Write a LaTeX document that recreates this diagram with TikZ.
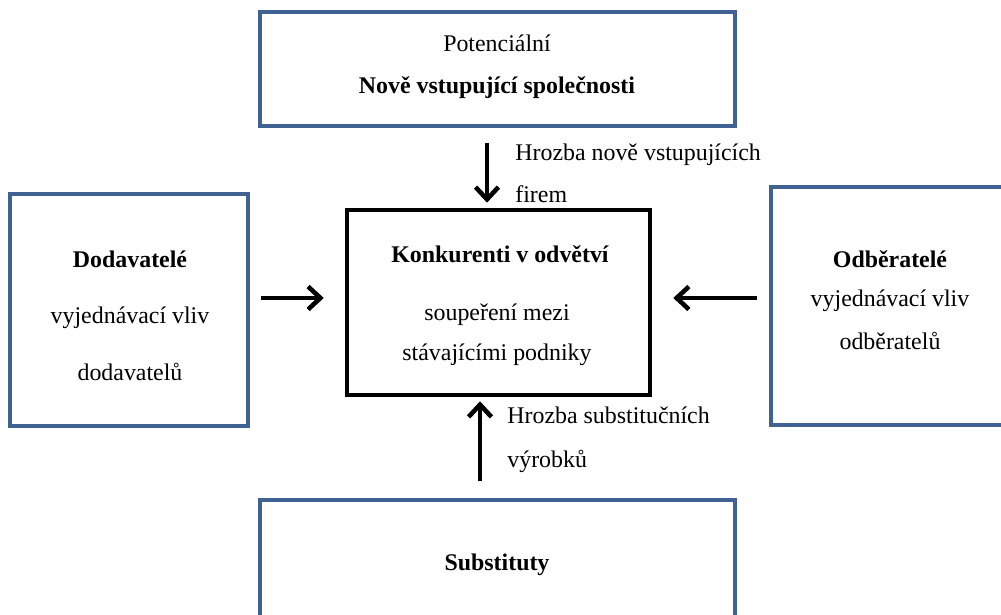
\documentclass[tikz,border=0pt]{standalone}
\usepackage{fontspec}
\setmainfont{Liberation Serif}
\usetikzlibrary{arrows.meta}
\definecolor{boxblue}{RGB}{64,98,146}
\tikzset{
  bluebox/.style={draw=boxblue, line width=2.3pt, inner sep=0pt},
  centerbox/.style={draw=black, line width=2.6pt, inner sep=0pt},
  arr/.style={line width=2.6pt, -{Straight Barb[length=7pt,width=13pt,line width=2.6pt]}},
  txt/.style={anchor=base, inner sep=0pt, font=\fontsize{13.6}{16}\selectfont},
  btxt/.style={txt, font=\fontsize{13.6}{16}\selectfont\bfseries},
  ltxt/.style={anchor=base west, inner sep=0pt, font=\fontsize{13.6}{16}\selectfont}
}
\begin{document}
\begin{tikzpicture}[x=0.02cm, y=-0.02cm]
\useasboundingbox (0,0) rectangle (1001,615);
\clip (0,0) rectangle (1001,615);
% boxes
\node[bluebox, minimum width=9.5cm, minimum height=2.28cm] (top) at (497.5,69) {};
\node[bluebox, minimum width=4.76cm, minimum height=4.64cm] (left) at (129,310) {};
\node[bluebox, minimum width=5.18cm, minimum height=4.76cm] (right) at (900.5,306) {};
\node[bluebox, minimum width=9.5cm, minimum height=2.8cm] (bottom) at (497.5,570) {};
\node[centerbox, minimum width=6.06cm, minimum height=3.7cm] (center) at (498.5,302.5) {};
% texts
\node[txt]  (t1) at (497,52) {Potenciální};
\node[btxt] (t2) at (497,93) {Nově vstupující společnosti};
\node[btxt] (l1) at (130,267) {Dodavatelé};
\node[txt]  (l2) at (130,323) {vyjednávací vliv};
\node[txt]  (l3) at (130,380) {dodavatelů};
\node[btxt] (r1) at (890,267) {Odběratelé};
\node[txt]  (r2) at (890,306) {vyjednávací vliv};
\node[txt]  (r3) at (890,349) {odběratelů};
\node[btxt] (c1) at (500,262) {Konkurenti v odvětví};
\node[txt]  (c2) at (497,320) {soupeření mezi};
\node[txt]  (c3) at (497,360) {stávajícími podniky};
\node[btxt] (b1) at (497,570) {Substituty};
\node[ltxt] (a1) at (515,160) {Hrozba nově vstupujících};
\node[ltxt] (a2) at (515,202) {firem};
\node[ltxt] (a3) at (507,423) {Hrozba substitučních};
\node[ltxt] (a4) at (507,467) {výrobků};
% arrow guides
\coordinate (xt) at (487,0);
\coordinate (xb) at (480,0);
\coordinate (yh) at (0,298);
\draw[arr, shorten <=0.3cm, shorten >=0.1cm] (top.south -| xt) -- (center.north -| xt);
\draw[arr, shorten <=0.34cm, shorten >=0.08cm] (bottom.north -| xb) -- (center.south -| xb);
\draw[arr, shorten <=0.22cm, shorten >=0.42cm] (left.east |- yh) -- (center.west |- yh);
\draw[arr, shorten <=0.24cm, shorten >=0.42cm] (right.west |- yh) -- (center.east |- yh);
\end{tikzpicture}
\end{document}
